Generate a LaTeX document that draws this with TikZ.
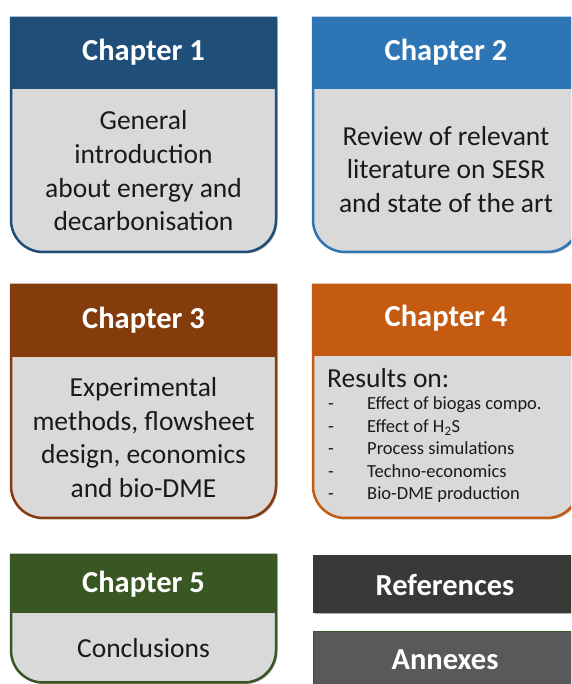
\documentclass[tikz,border=0pt]{standalone}
\usepackage{fontspec}
\setmainfont{Carlito}
\usetikzlibrary{shadows}
\definecolor{cOne}{HTML}{1F4E79}
\definecolor{cTwo}{HTML}{2E75B6}
\definecolor{cThree}{HTML}{843C0C}
\definecolor{cFour}{HTML}{C55A11}
\definecolor{cFive}{HTML}{385723}
\definecolor{cRef}{HTML}{3B3838}
\definecolor{cAnx}{HTML}{595959}
\definecolor{bodygray}{HTML}{D9D9D9}
\definecolor{txt}{HTML}{1A1A1A}
\tikzset{
  hdrtext/.style={text=white,font=\fontsize{30.5}{36}\selectfont\bfseries,inner sep=0pt},
  bodytext/.style={text=txt,font=\fontsize{27.5}{33.7}\selectfont,align=center,inner sep=0pt},
  listtext/.style={text=txt,font=\fontsize{18.5}{22.5}\selectfont,align=left,inner sep=0pt},
  shad/.style={drop shadow={shadow xshift=1.5pt,shadow yshift=-1.5pt,opacity=0.3,fill=black}},
}
% #1 x1, #2 x2, #3 top, #4 header bottom, #5 bottom, #6 colour
\newcommand\chapterbox[6]{%
  \path[shad,fill=bodygray,draw=#6,line width=2.5pt]
    (#1,#3) -- (#2,#3) -- (#2,{#5+32}) arc[start angle=0,end angle=-90,radius=32]
    -- ({#1+32},#5) arc[start angle=270,end angle=180,radius=32] -- cycle;
  \fill[#6] (#1,#3) rectangle (#2,#4);
}
\begin{document}
\begin{tikzpicture}[x=1pt,y=1pt]
\useasboundingbox (0,0) rectangle (571,684);
\fill[white] (0,0) rectangle (571,684);
\clip (0,0) rectangle (571,684);

\chapterbox{11}{276}{666}{595}{432}{cOne}
\chapterbox{313}{579}{666}{595}{432}{cTwo}
\chapterbox{11}{276}{399}{327}{166}{cThree}
\chapterbox{313}{579}{399}{328}{166}{cFour}
\chapterbox{11}{276}{129}{71}{1.5}{cFive}

\path[shad,fill=cRef] (313,129) rectangle (582,71);
\path[shad,fill=cAnx,draw=cFive,line width=1pt] (313,52) rectangle (582,-20);

\node[hdrtext] (h1) at (143.5,632) {Chapter 1};
\node[hdrtext] (h2) at (446,632) {Chapter 2};
\node[hdrtext] (h3) at (143.5,364) {Chapter 3};
\node[hdrtext] (h4) at (446,366) {Chapter 4};
\node[hdrtext] (h5) at (143.5,100) {Chapter 5};
\node[hdrtext] (ref) at (445,99) {References};
\node[hdrtext] (anx) at (445,24) {Annexes};

\node[bodytext] (b1) at (143.5,513) {General\\introduction\\about energy and\\decarbonisation};
\node[bodytext] (b2) at (446,514.5) {Review of relevant\\literature on SESR\\and state of the art};
\node[bodytext] (b3) at (143.5,246.5) {Experimental\\methods, flowsheet\\design, economics\\and bio-DME};
\node[bodytext] (b5) at (143.5,36) {Conclusions};

\node[bodytext,anchor=west] (b4) at (327,306) {Results on:};
\node[listtext,anchor=west] (l4) at (328,234) {%
\makebox[39pt][l]{-}Effect of biogas compo.\\
\makebox[39pt][l]{-}Effect of H\textsubscript{2}S\\
\makebox[39pt][l]{-}Process simulations\\
\makebox[39pt][l]{-}Techno-economics\\
\makebox[39pt][l]{-}Bio-DME production};
\end{tikzpicture}
\end{document}
